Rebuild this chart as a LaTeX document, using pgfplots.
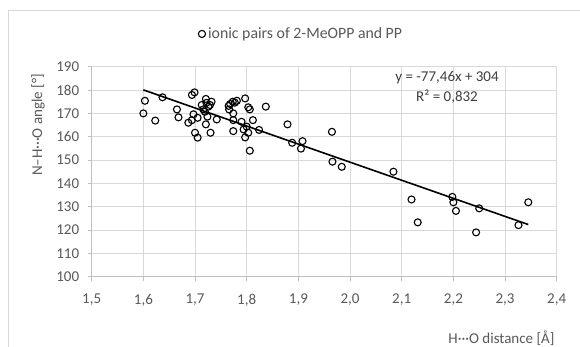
\documentclass[border=0pt]{standalone}
\usepackage{fontspec}
\setmainfont{Carlito}
\usepackage{pgfplots}
\pgfplotsset{compat=1.18}
\definecolor{gridc}{HTML}{D9D9D9}
\definecolor{axc}{HTML}{BFBFBF}
\definecolor{txt}{HTML}{595959}
\definecolor{eqc}{HTML}{404040}
\newcommand{\fs}{\fontsize{15}{20}\selectfont}
\newcommand{\fl}{\fontsize{15.8}{20}\selectfont}
\begin{document}
\begin{tikzpicture}[x=1pt,y=1pt]
\useasboundingbox (0,0) rectangle (580,346);
\fill[white] (0,0) rectangle (580,346);
\draw[gridc, line width=1pt] (8,-20) -- (8,335) -- (620,335);
\begin{axis}[
  at={(91.7pt,69.3pt)}, anchor=south west,
  scale only axis, width=465pt, height=210pt,
  xmin=1.5, xmax=2.4, ymin=100, ymax=190,
  xtick={1.5,1.6,1.7,1.8,1.9,2.0,2.1,2.2,2.3,2.4},
  ytick={100,110,120,130,140,150,160,170,180,190},
  grid=major,
  grid style={draw=gridc, line width=0.9pt},
  axis lines*=left,
  axis line style={draw=axc, line width=0.9pt},
  tick style={draw=axc, line width=0.9pt},
  tick align=outside,
  major tick length=4pt,
  x tick label style={/pgf/number format/fixed, /pgf/number format/fixed zerofill, /pgf/number format/precision=1, /pgf/number format/use comma},
  y tick label style={/pgf/number format/fixed, /pgf/number format/precision=0},
  /pgf/number format/assume math mode=true,
  ticklabel style={font=\fs, text=txt},
  xticklabel style={yshift=-10pt},
  yticklabel style={xshift=-5pt},
  clip=false,
  legend style={at={(0.45,1.156)}, anchor=center, draw=none, fill=none,
    font=\fl, text=txt, legend cell align=left},
  legend image code/.code={\draw[black, line width=1.1pt] (0pt,0pt) circle (3.6pt);},
]
\addplot[only marks, mark=o, mark size=3.5pt, mark options={line width=1.1pt, draw=black}] coordinates {
(1.600,170.0)
(1.603,175.4)
(1.623,166.9)
(1.637,176.9)
(1.665,171.7)
(1.668,168.3)
(1.694,177.9)
(1.699,179.0)
(1.687,166.0)
(1.694,167.1)
(1.697,169.6)
(1.705,168.1)
(1.700,161.7)
(1.705,159.6)
(1.713,173.6)
(1.721,176.2)
(1.716,171.7)
(1.719,170.7)
(1.726,172.9)
(1.732,175.0)
(1.729,173.6)
(1.722,174.5)
(1.724,168.6)
(1.721,165.3)
(1.730,161.7)
(1.742,167.4)
(1.765,173.2)
(1.768,174.0)
(1.773,175.0)
(1.777,174.6)
(1.781,175.4)
(1.766,171.7)
(1.774,170.0)
(1.774,167.1)
(1.797,176.4)
(1.803,172.6)
(1.806,171.7)
(1.790,166.4)
(1.800,164.3)
(1.774,162.4)
(1.794,163.1)
(1.797,159.7)
(1.803,161.7)
(1.812,167.1)
(1.824,162.9)
(1.837,172.9)
(1.806,154.0)
(1.879,165.3)
(1.888,157.4)
(1.908,158.1)
(1.905,154.9)
(1.965,162.1)
(1.966,149.3)
(1.984,147.1)
(2.084,145.0)
(2.119,133.1)
(2.131,123.3)
(2.198,134.2)
(2.200,131.9)
(2.205,128.2)
(2.250,129.3)
(2.244,119.0)
(2.326,122.1)
(2.345,131.9)
};
\addlegendentry{ionic pairs of 2-MeOPP and PP}
\addplot[black, line width=1.6pt, forget plot] coordinates {(1.600,180.06) (2.345,122.36)};
\end{axis}
\node[font=\fs, text=eqc, align=center] at (447,259) {y = -77,46x + 304\\R² = 0,832};
\node[font=\fs, text=txt, rotate=90] at (38,221) {N–H···O angle [°]};
\node[font=\fs, text=txt, anchor=east] at (558,8) {H···O distance [Å]};
\end{tikzpicture}
\end{document}
